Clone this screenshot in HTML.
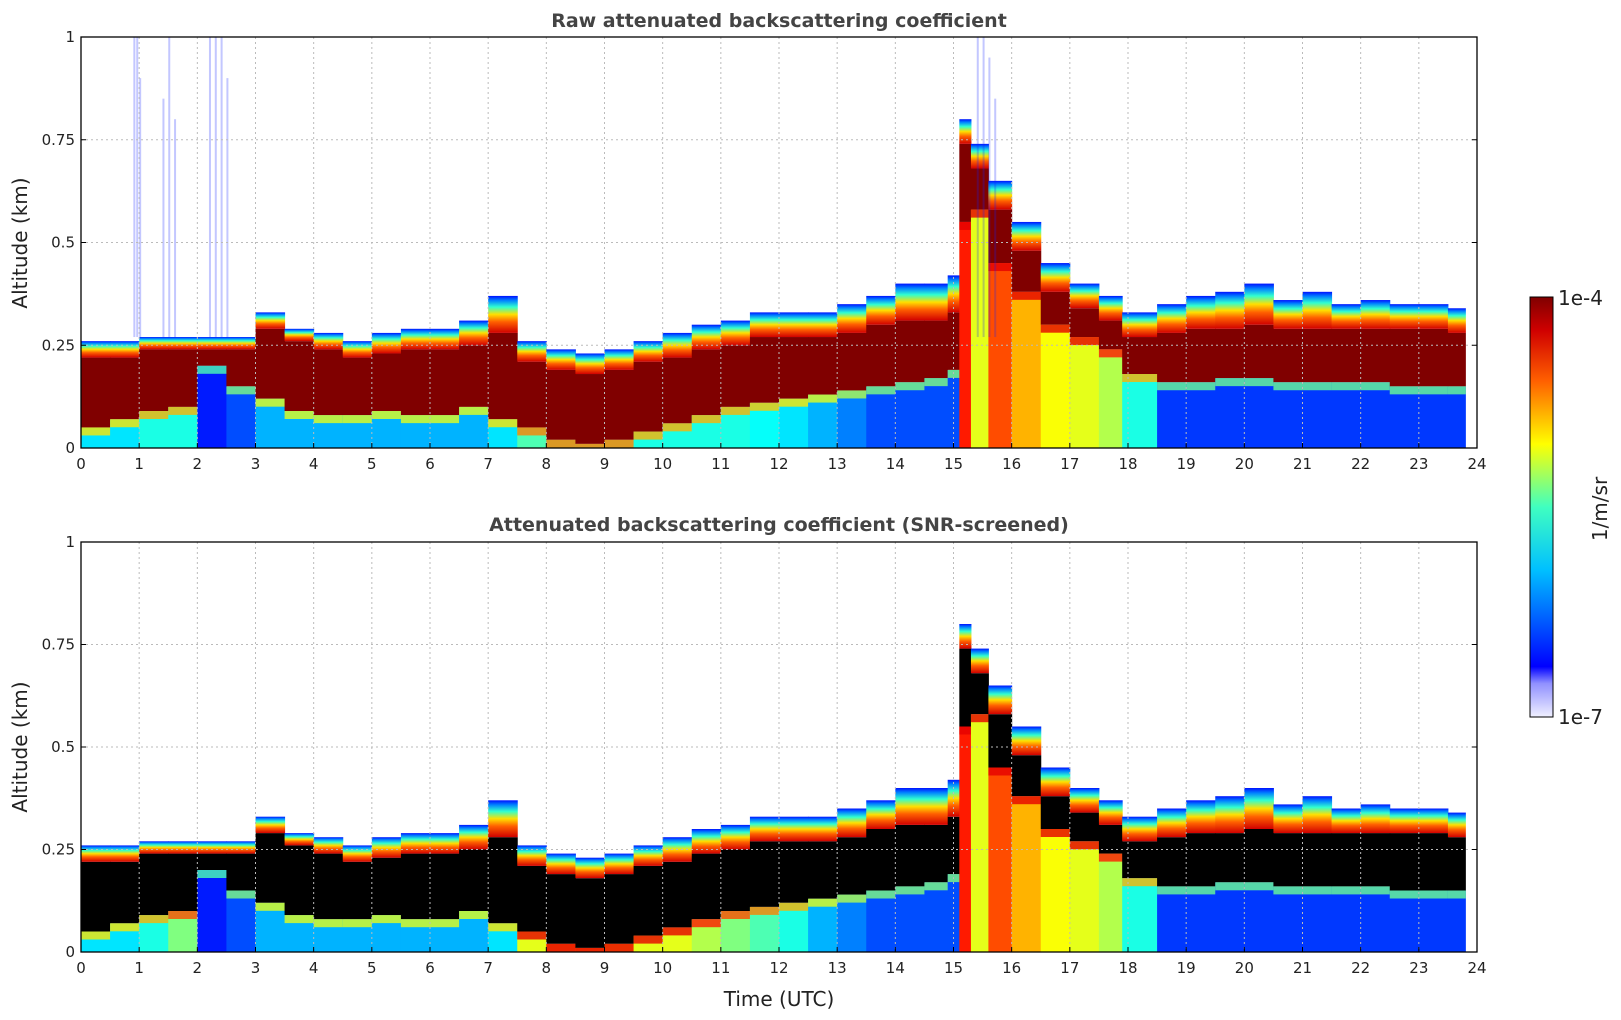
<!DOCTYPE html>
<html><head><meta charset="utf-8"><style>
body{margin:0;background:#fff;font-family:"DejaVu Sans","Liberation Sans",sans-serif}
svg{display:block}
</style></head><body>
<svg id="fig" width="1621" height="1020" xmlns="http://www.w3.org/2000/svg" font-family="DejaVu Sans, Liberation Sans, sans-serif">
<defs>
<linearGradient id="fade" x1="0" y1="1" x2="0" y2="0">
<stop offset="0" stop-color="#d00000"/><stop offset="0.3" stop-color="#ff6000"/><stop offset="0.5" stop-color="#ffe000"/><stop offset="0.7" stop-color="#30ffd0"/><stop offset="0.88" stop-color="#0080ff"/><stop offset="1" stop-color="#0010ff"/>
</linearGradient>
<linearGradient id="cbar" x1="0" y1="1" x2="0" y2="0">
<stop offset="0" stop-color="#f0f0ff"/><stop offset="0.08" stop-color="#9090ff"/><stop offset="0.12" stop-color="#0000ff"/><stop offset="0.35" stop-color="#00c0ff"/><stop offset="0.5" stop-color="#40ffc0"/><stop offset="0.65" stop-color="#ffff00"/><stop offset="0.8" stop-color="#ff6000"/><stop offset="0.92" stop-color="#d00000"/><stop offset="1" stop-color="#800000"/>
</linearGradient>
</defs>
<g id="p1"></g>
<g id="p2"></g>
<text x="779" y="27" text-anchor="middle" font-size="19" font-weight="bold" fill="#444">Raw attenuated backscattering coefficient</text>
<text x="779" y="531" text-anchor="middle" font-size="19" font-weight="bold" fill="#444">Attenuated backscattering coefficient (SNR-screened)</text>
<text x="779" y="1006" text-anchor="middle" font-size="20" fill="#222">Time (UTC)</text>
<text transform="translate(27,243) rotate(-90)" text-anchor="middle" font-size="20" fill="#222">Altitude (km)</text>
<text transform="translate(27,747) rotate(-90)" text-anchor="middle" font-size="20" fill="#222">Altitude (km)</text>
<rect x="1530" y="297" width="23" height="420" fill="url(#cbar)" stroke="#000"/>
<text x="1558" y="305" font-size="20" fill="#222">1e-4</text>
<text x="1558" y="724" font-size="20" fill="#222">1e-7</text>
<text transform="translate(1607,509) rotate(-90)" text-anchor="middle" font-size="20" fill="#222">1/m/sr</text>
</svg>
<script>
const times=[0,0.5,1,1.5,2,2.5,3,3.5,4,4.5,5,5.5,6,6.5,7,7.5,8,8.5,9,9.5,10,10.5,11,11.5,12,12.5,13,13.5,14,14.5,14.9,15.1,15.3,15.6,16,16.5,17,17.5,17.9,18.5,19,19.5,20,20.5,21,21.5,22,22.5,23,23.5,23.8];
const cloudTop=[.26,.26,.27,.27,.27,.27,.33,.29,.28,.26,.28,.29,.29,.31,.37,.26,.24,.23,.24,.26,.28,.30,.31,.33,.33,.33,.35,.37,.40,.40,.42,.80,.74,.65,.55,.45,.40,.37,.33,.35,.37,.38,.40,.36,.38,.35,.36,.35,.35,.34];
const denseTop=[.22,.22,.24,.24,.24,.24,.29,.26,.24,.22,.23,.24,.24,.25,.28,.21,.19,.18,.19,.21,.22,.24,.25,.27,.27,.27,.28,.30,.31,.31,.33,.74,.68,.58,.48,.38,.34,.31,.27,.28,.29,.29,.30,.29,.29,.29,.29,.29,.29,.28];
const denseBase=[.05,.07,.09,.10,.20,.15,.12,.09,.08,.08,.09,.08,.08,.10,.07,.05,.02,.01,.02,.04,.06,.08,.10,.11,.12,.13,.14,.15,.16,.17,.19,.55,.58,.45,.38,.30,.27,.24,.18,.16,.16,.17,.17,.16,.16,.16,.16,.15,.15,.15];
const lowLevel=[.35,.35,.4,.4,.15,.2,.3,.3,.3,.3,.3,.3,.3,.3,.35,.45,.45,.45,.45,.4,.4,.4,.4,.38,.35,.3,.25,.2,.2,.2,.2,.85,.6,.8,.7,.62,.6,.55,.4,.18,.18,.18,.18,.18,.18,.18,.18,.18,.18,.18];
const lowLevel2=[.35,.35,.4,.5,.15,.2,.3,.3,.3,.3,.3,.3,.3,.3,.35,.6,.7,.7,.65,.6,.6,.55,.5,.45,.4,.3,.25,.2,.2,.2,.2,.85,.6,.8,.7,.62,.6,.55,.4,.18,.18,.18,.18,.18,.18,.18,.18,.18,.18,.18];
const noiseTimes=[0.9,0.95,1.0,1.4,1.5,1.6,2.2,2.3,2.4,2.5,15.4,15.5,15.6,15.7];
const noiseTops=[1,1,0.9,0.85,1,0.8,1,1,1,0.9,1,1,0.95,0.85];
const xTicks=[...Array(25).keys()];
const yTicks=[0,0.25,0.5,0.75,1];
const yTickLabels=["0","0.25","0.5","0.75","1"];
const NS="http://www.w3.org/2000/svg";
const X0=81,X1=1477;
function jet(t){const c=v=>Math.round(255*Math.max(0,Math.min(1,v)));return`rgb(${c(1.5-Math.abs(4*t-3))},${c(1.5-Math.abs(4*t-2))},${c(1.5-Math.abs(4*t-1))})`;}
function mk(p,tag,a){const e=document.createElementNS(NS,tag);for(const k in a)e.setAttribute(k,a[k]);p.appendChild(e);return e;}
function panel(g,Y0,Y1,screened){
 const xs=t=>X0+(X1-X0)*t/24, ys=v=>Y1-(Y1-Y0)*v;
 const low=screened?lowLevel2:lowLevel;
 for(let i=0;i<times.length-1;i++){
  const xa=xs(times[i]),w=xs(times[i+1])-xa+0.5;
  let r=mk(g,'rect',{x:xa,y:ys(denseBase[i]),width:w,height:ys(0)-ys(denseBase[i]),fill:jet(low[i])});
  
  
  r=mk(g,'rect',{x:xa,y:ys(denseTop[i]),width:w,height:ys(denseBase[i])-ys(denseTop[i]),fill:screened?'#000':'#800000'});
  
  
  r=mk(g,'rect',{x:xa,y:ys(denseBase[i]),width:w,height:Math.max(0,Math.min(ys(0)-ys(denseBase[i]),8)),fill:jet(Math.min(0.9,low[i]+0.3)),opacity:0.8});
  
  
  r=mk(g,'rect',{x:xa,y:ys(cloudTop[i]),width:w,height:ys(denseTop[i])-ys(cloudTop[i]),fill:'url(#fade)'});
  
  
 }
 if(!screened){
  noiseTimes.forEach((t,i)=>{
   const r=mk(g,'rect',{x:xs(t),y:ys(noiseTops[i]),width:2,height:ys(0.27)-ys(noiseTops[i]),fill:'#1020ff',opacity:0.25});
   
   
  });
 }
 xTicks.forEach(t=>{
  const x=xs(t);
  mk(g,'line',{x1:x,x2:x,y1:Y0,y2:Y1,stroke:'#bbb','stroke-dasharray':'2,3','stroke-width':1});
  mk(g,'line',{x1:x,x2:x,y1:Y1,y2:Y1-5,stroke:'#000'});
  const tx=mk(g,'text',{x:x,y:Y1+21,'text-anchor':'middle','font-size':15,fill:'#222'});tx.textContent=t;
  
  
 });
 yTicks.forEach((v,i)=>{
  const y=ys(v);
  mk(g,'line',{x1:X0,x2:X1,y1:y,y2:y,stroke:'#bbb','stroke-dasharray':'2,3','stroke-width':1});
  mk(g,'line',{x1:X0,x2:X0+5,y1:y,y2:y,stroke:'#000'});
  mk(g,'line',{x1:X1,x2:X1-5,y1:y,y2:y,stroke:'#000'});
  const tx=mk(g,'text',{x:X0-6,y:y+5,'text-anchor':'end','font-size':15,fill:'#222'});tx.textContent=yTickLabels[i];
  
  
 });
 const f=mk(g,'rect',{x:X0,y:Y0,width:X1-X0,height:Y1-Y0,fill:'none',stroke:'#000','stroke-width':1.3});
 
 
}
panel(document.getElementById('p1'),37,448,false);
panel(document.getElementById('p2'),542,952,true);
</script>
</body></html>
